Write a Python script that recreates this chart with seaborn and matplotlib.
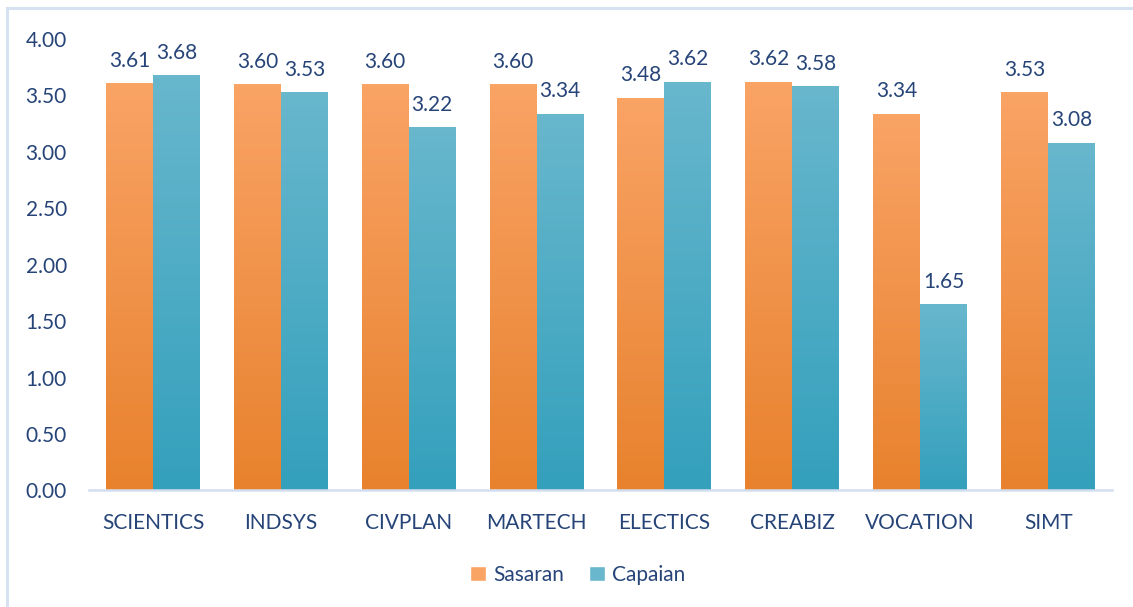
import numpy as np
import pandas as pd
import matplotlib.pyplot as plt
import matplotlib.colors as mcolors
from matplotlib.patches import Rectangle
import seaborn as sns

categories = ['SCIENTICS', 'INDSYS', 'CIVPLAN', 'MARTECH', 'ELECTICS', 'CREABIZ', 'VOCATION', 'SIMT']
sasaran = [3.61, 3.60, 3.60, 3.60, 3.48, 3.62, 3.34, 3.53]
capaian = [3.68, 3.53, 3.22, 3.34, 3.62, 3.58, 1.65, 3.08]
series = ['Sasaran', 'Capaian']

text_color = '#264478'
# top / bottom colours of the gradient in each bar
grad = {
    'Sasaran': ('#F9A365', '#E8822E'),
    'Capaian': ('#68B7CD', '#34A0BC'),
}

df = pd.DataFrame({
    'kategori': categories * 2,
    'nilai': sasaran + capaian,
    'seri': ['Sasaran'] * len(categories) + ['Capaian'] * len(categories),
})

sns.set_style('white')
plt.rcParams['font.family'] = ['Lato', 'DejaVu Sans']

fig = plt.figure(figsize=(11.33, 6.07), dpi=100)
ax = fig.add_axes([0.0786, 0.192, 0.9029, 0.7437])

sns.barplot(data=df, x='kategori', y='nilai', hue='seri', hue_order=series,
            palette=[grad[s][1] for s in series], width=0.735, ax=ax,
            saturation=1, errorbar=None)

ax.set_ylim(0, 4)
ax.set_xlim(-0.5, len(categories) - 0.5)

# vertical gradient clipped to each bar
for cont, s in zip(ax.containers, series):
    cmap = mcolors.LinearSegmentedColormap.from_list(s, [grad[s][1], grad[s][0]])
    for bar in cont:
        x0, y0 = bar.get_x(), bar.get_y()
        w, h = bar.get_width(), bar.get_height()
        g = np.linspace(0, 1, 100).reshape(-1, 1)
        im = ax.imshow(g, cmap=cmap, origin='lower', aspect='auto',
                       extent=(x0, x0 + w, y0, y0 + h), zorder=bar.get_zorder() + 0.1)
        im.set_clip_path(bar)
    ax.bar_label(cont, fmt='%.2f', padding=9, color=text_color, fontsize=15)

ax.set_ylim(0, 4)
ax.set_xlim(-0.5, len(categories) - 0.5)
ax.set_yticks(np.arange(0, 4.01, 0.5))
ax.set_yticklabels([f'{v:.2f}' for v in np.arange(0, 4.01, 0.5)])
ax.tick_params(axis='both', length=0, labelsize=15, labelcolor=text_color)
ax.tick_params(axis='y', pad=16)
ax.tick_params(axis='x', pad=16)
ax.set_xlabel('')
ax.set_ylabel('')

for side in ['top', 'right', 'left']:
    ax.spines[side].set_visible(False)
ax.spines['bottom'].set_color('#D3DFEE')
ax.spines['bottom'].set_linewidth(1.8)

handles = [Rectangle((0, 0), 1, 1, facecolor=grad[s][0]) for s in series]
ax.legend_.remove()
fig.legend(handles, series, loc='center', bbox_to_anchor=(0.51, 0.053), ncol=2,
           frameon=False, fontsize=15, labelcolor=text_color, handlelength=0.75,
           handleheight=0.75, handletextpad=0.35, columnspacing=1.2)

# chart border
fig.patches.append(Rectangle((7 / 1133, -0.1), 1.2, 1.1 - 8 / 607, transform=fig.transFigure,
                             fill=False, edgecolor='#D6E2F1', linewidth=2.2, zorder=0))

fig.savefig('out.png', dpi=100)
plt.close()
